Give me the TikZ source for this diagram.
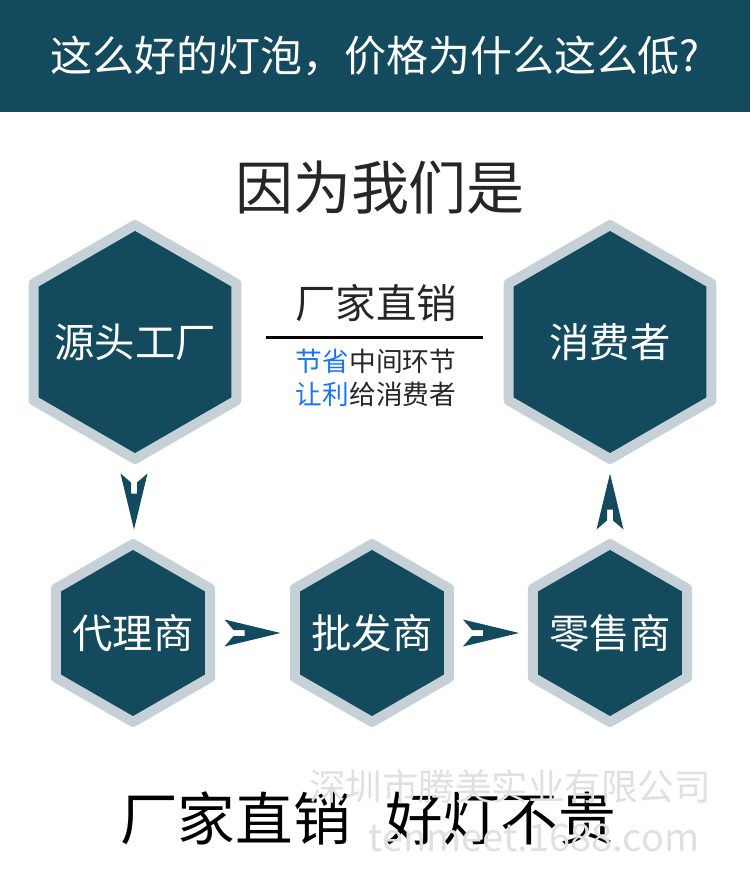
\documentclass[tikz,border=0pt]{standalone}
\usepackage{fontspec}
\setmainfont{Noto Sans CJK SC}
\usepackage{tikz}
\usetikzlibrary{positioning, shapes.geometric}
\usepackage{xcolor}

\definecolor{deepteal}{RGB}{19,74,94}
\definecolor{paleedge}{RGB}{197,209,215}
\definecolor{brightblue}{RGB}{26,115,255}
\definecolor{inkgray}{RGB}{38,38,38}
\definecolor{markgray}{RGB}{224,224,224}

\begin{document}
\begin{tikzpicture}[
    x=0.02cm, y=-0.02cm,
    hexbase/.style={regular polygon, regular polygon sides=6, shape border rotate=30,
                    draw=paleedge, line width=0.2cm, line join=round, fill=deepteal,
                    inner sep=0pt},
    bighex/.style={hexbase, minimum size=4.68cm},
    smallhex/.style={hexbase, minimum size=3.56cm},
    hexlabel/.style={inner sep=0pt, text=white, font=\fontsize{23}{28}\selectfont},
    caption/.style={inner sep=0pt, text=inkgray, align=center},
    watermark/.style={inner sep=0pt, text=markgray},
    notcharrow/.pic={
        \fill[deepteal] (-28,-13.5) -- (28,0) -- (-28,13.5) -- (-19,3)
                        -- (-8,3) -- (-8,-3) -- (-19,-3) -- cycle;
    },
]
\useasboundingbox (0,0) rectangle (750,888);

% Banner
\node[fill=deepteal, minimum width=15cm, minimum height=2.24cm, inner sep=0pt,
      text=white, font=\fontsize{23.9}{28}\selectfont] (banner) at (375,56)
      {这么好的灯泡，价格为什么这么低?};

% Headline
\node[caption, font=\fontsize{33}{40}\selectfont] (headline) at (380,188) {因为我们是};

% Hexagons
\node[bighex,   label={[hexlabel]center:源头工厂}] (factory)   at (135,342) {};
\node[bighex,   label={[hexlabel]center:消费者}]   (consumer)  at (610,342) {};
\node[smallhex, label={[hexlabel]center:代理商}]   (agent)     at (133,633) {};
\node[smallhex, label={[hexlabel]center:批发商}]   (wholesale) at (372,633) {};
\node[smallhex, label={[hexlabel]center:零售商}]   (retail)    at (610,633) {};

% Middle — direct sale
\node[caption, font=\fontsize{23}{28}\selectfont] (direct) at (376,303) {厂家直销};
\node[caption, font=\fontsize{15.2}{18.8}\selectfont, below=0.53cm of direct] (note)
     {\textcolor{brightblue}{节省}中间环节\\\textcolor{brightblue}{让利}给消费者};
\coordinate (ruleL) at (266,337);
\coordinate (ruleR) at (483,337);
\draw[line width=0.06cm] (ruleL) -- (ruleR);

% Arrows along the chain
\path (factory.south) -- (agent.north)     coordinate[midway] (step1);
\path (agent.east)    -- (wholesale.west)  coordinate[midway] (step2);
\path (wholesale.east) -- (retail.west)    coordinate[midway] (step3);
\path (retail.north)  -- (consumer.south)  coordinate[midway] (step4);
\pic[rotate=-90] at (step1) {notcharrow};
\pic at (step2) {notcharrow};
\pic at (step3) {notcharrow};
\pic[rotate=90] at (step4) {notcharrow};

% Slogan
\node[inner sep=0pt, font=\fontsize{32.8}{40}\selectfont] (slogan) at (368,818)
     {厂家直销\hspace{0.6em}好灯不贵};

% Watermark
\node[watermark, font=\fontsize{20.8}{26}\selectfont] (markcn)  at (510,786) {深圳市腾美实业有限公司};
\node[watermark, font=\fontsize{21.6}{26}\selectfont] (markurl) at (534,838) {tenmeet.1688.com};
\end{tikzpicture}
\end{document}
